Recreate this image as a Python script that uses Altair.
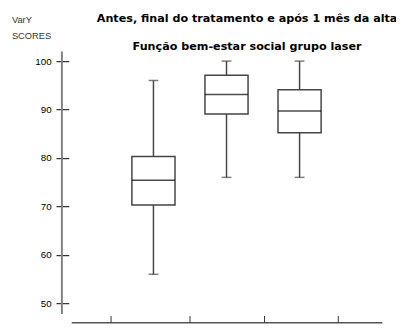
import altair as alt
import pandas as pd

# ---- data ----
groups = ["Antes", "Final do tratamento", "Após 1 mês da alta"]
positions = [1, 2, 3]
whisker_low = [56.0, 76.0, 76.0]
q1 = [70.3, 89.1, 85.2]
median = [75.4, 93.1, 89.7]
q3 = [80.3, 97.1, 94.1]
whisker_high = [96.0, 100.0, 100.0]

y_ticks = [50, 60, 70, 80, 90, 100]
x_ticks = [0.42, 1.5, 2.52, 3.53]

title_lines = ["Antes, final do tratamento e após 1 mês da alta",
               "Função bem-estar social grupo laser"]
y_title_lines = ["VarY", "SCORES"]

df = pd.DataFrame({
    "group": groups, "pos": positions, "lo": whisker_low, "q1": q1,
    "median": median, "q3": q3, "hi": whisker_high,
})

W, H = 317, 268
FONT = "Liberation Sans"
TFONT = "DejaVu Sans"
xscale = alt.Scale(domain=[-0.052, 4.065], nice=False, zero=False)
yscale = alt.Scale(domain=[47.8, 102.0], nice=False, zero=False)

yaxis = alt.Axis(values=y_ticks, domain=False, grid=False, tickSize=13,
                 tickColor="black", tickWidth=1, offset=3, labelPadding=5,
                 labelFont=FONT, labelFontSize=10, labelColor="black",
                 title=None)

BOXC = "#444444"

base = alt.Chart(df)
xenc = alt.X("pos:Q", scale=xscale, axis=None)

whiskers = base.mark_rule(color=BOXC, strokeWidth=1.5).encode(
    x=xenc, y=alt.Y("lo:Q", scale=yscale, axis=yaxis), y2="hi:Q")

boxes = base.mark_bar(fill="white", stroke=BOXC, strokeWidth=1.5,
                      size=44).encode(
    x=xenc, y=alt.Y("q1:Q", scale=yscale), y2="q3:Q")

medians = base.mark_tick(color="black", thickness=1.5, size=44,
                         orient="horizontal").encode(
    x=xenc, y=alt.Y("median:Q", scale=yscale))

cap_hi = base.mark_tick(color=BOXC, thickness=1.5, size=10,
                        orient="horizontal").encode(
    x=xenc, y=alt.Y("hi:Q", scale=yscale))
cap_lo = base.mark_tick(color=BOXC, thickness=1.5, size=10,
                        orient="horizontal").encode(
    x=xenc, y=alt.Y("lo:Q", scale=yscale))

XAXIS_Y = 277
one = pd.DataFrame({"a": [0]})
yline = alt.Chart(one).mark_rule(color="#808080", strokeWidth=2).encode(
    x=alt.value(-10), y=alt.value(0), y2=alt.value(H))
xline = alt.Chart(one).mark_rule(color="#555555", strokeWidth=1.5).encode(
    x=alt.value(0), x2=alt.value(W), y=alt.value(XAXIS_Y))
xtick_df = pd.DataFrame({"t": x_ticks})
xticks = alt.Chart(xtick_df).mark_rule(color="#333333", strokeWidth=1).encode(
    x=alt.X("t:Q", scale=xscale, axis=None),
    y=alt.value(XAXIS_Y - 7), y2=alt.value(XAXIS_Y))

def label(txt, x, y, align, font, bold=False, size=10, color="black"):
    return alt.Chart(pd.DataFrame({"t": [txt]})).mark_text(
        align=align, baseline="middle", font=font, fontSize=size,
        fontWeight="bold" if bold else "normal", color=color).encode(
        text="t:N", x=alt.value(x), y=alt.value(y))

# page y = plot y + 49
t1 = label(title_lines[0], 179, -33, "center", TFONT, bold=True, size=11.4)
t2 = label(title_lines[1], 179, -4, "center", TFONT, bold=True, size=11.4)
v1 = label(y_title_lines[0], -61, -32, "left", FONT, size=9.5, color="#333333")
v2 = label(y_title_lines[1], -61, -16, "left", FONT, size=9.5, color="#333333")

chart = alt.layer(
    whiskers, boxes, medians, cap_hi, cap_lo, yline, xline, xticks,
    t1, t2, v1, v2,
).properties(
    width=W, height=H,
    autosize=alt.AutoSizeParams(type="none"),
    padding={"left": 65, "top": 41, "right": 14, "bottom": 12},
).configure_view(stroke=None)

chart.save("out.html", embed_options={"renderer": "svg", "actions": False})
